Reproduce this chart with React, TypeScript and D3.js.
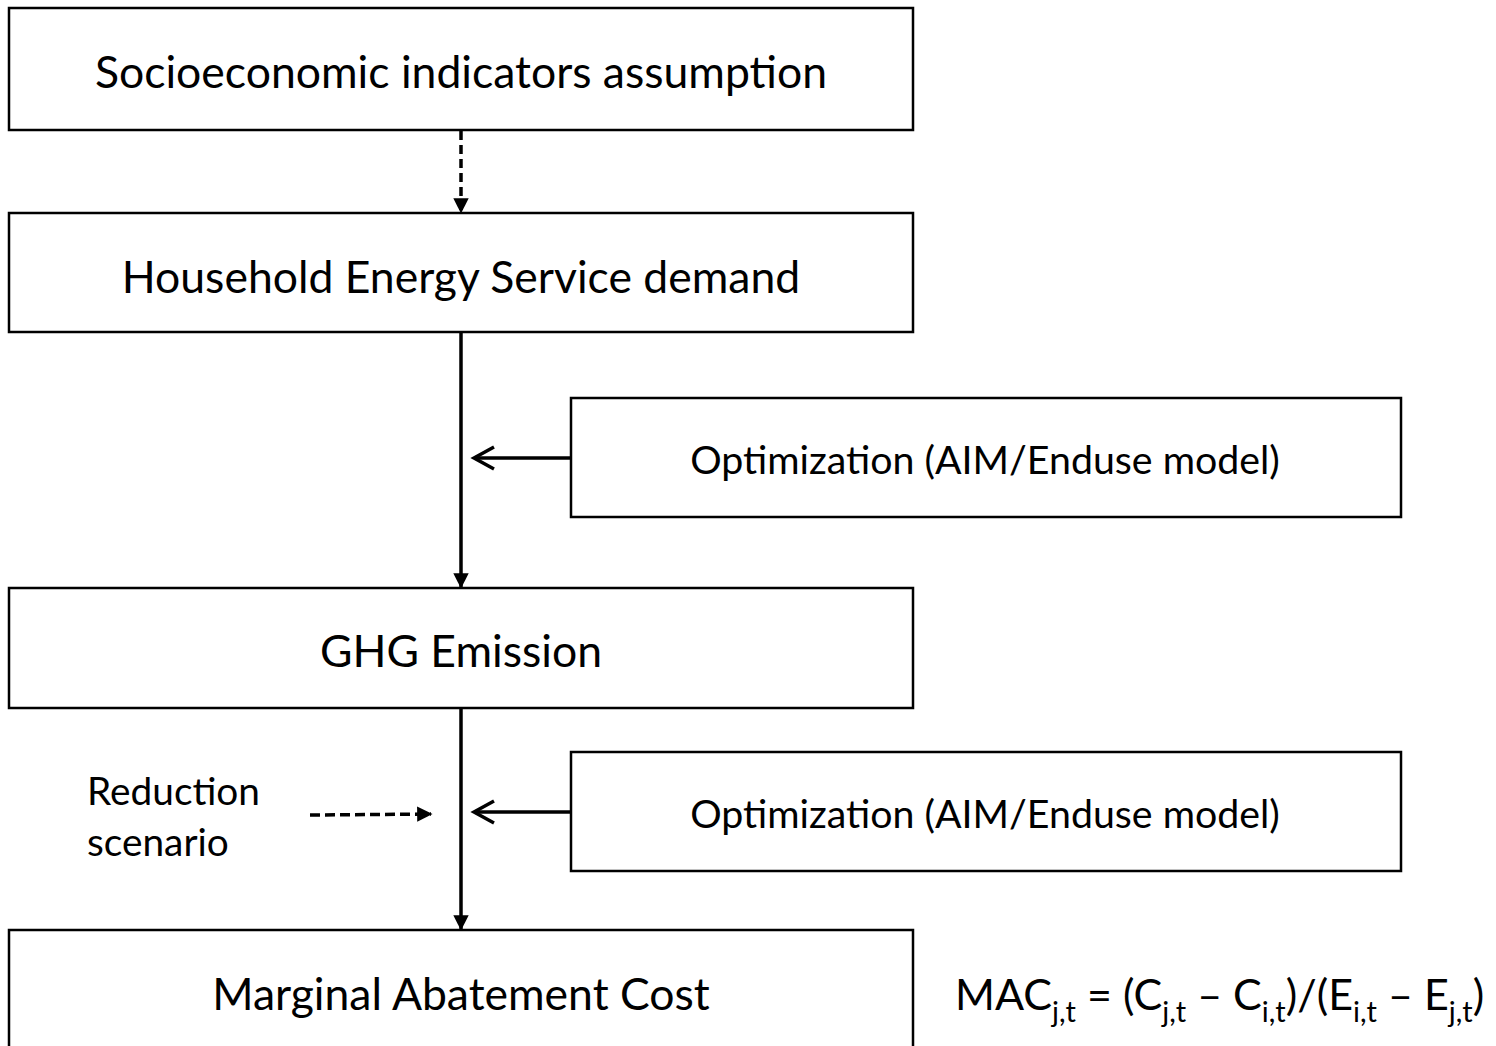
import React, { useEffect, useRef, ReactElement } from 'react'
import * as d3 from 'd3'

// flow steps on the main column, top to bottom
const mainSteps = [
  'Socioeconomic indicators assumption',
  'Household Energy Service demand',
  'GHG Emission',
  'Marginal Abatement Cost'
]
// side inputs that feed the links between steps
const sideSteps = ['Optimization (AIM/Enduse model)', 'Optimization (AIM/Enduse model)']
const linkStyles = ['dashed', 'solid', 'solid']
const scenarioLines = ['Reduction', 'scenario']
// formula pieces: [text, isSubscript]
const formulaParts: [string, boolean][] = [
  ['MAC', false], ['j,t', true], [' = (C', false], ['j,t', true], [' \u2013 C', false], ['i,t', true],
  [')/(E', false], ['i,t', true], [' \u2013 E', false], ['j,t', true], [')', false]
]

const FONT = 'Lato, "Open Sans", sans-serif'

const App = (): ReactElement => {
  const ref = useRef<SVGSVGElement>(null)

  useEffect(() => {
    const svg = d3.select(ref.current)
    svg.selectAll('*').remove()

    const W = 1496
    const H = 1046
    // main column box positions
    const boxX = 9
    const boxW = 904
    const boxTop = [8, 213, 588, 930]
    const boxH = [122, 119, 120, 130]
    const baselines = [88, 293, 667, 1010]
    const cx = boxX + boxW / 2

    const sideX = 571
    const sideW = 830
    const sideTop = [398, 752]
    const sideH = 119

    const defs = svg.append('defs')
    defs.append('marker')
      .attr('id', 'tri')
      .attr('viewBox', '0 0 10 10')
      .attr('refX', 9)
      .attr('refY', 5)
      .attr('markerWidth', 4.4)
      .attr('markerHeight', 4.4)
      .attr('markerUnits', 'strokeWidth')
      .attr('orient', 'auto')
      .append('path')
      .attr('d', 'M0,0 L10,5 L0,10 Z')
      .attr('fill', '#000')

    svg.append('rect').attr('width', W).attr('height', H).attr('fill', '#fff')

    const g = svg.append('g')

    // main boxes
    g.selectAll('rect.main')
      .data(mainSteps)
      .join('rect')
      .attr('class', 'main')
      .attr('x', boxX)
      .attr('y', (d, i) => boxTop[i])
      .attr('width', boxW)
      .attr('height', (d, i) => boxH[i])
      .attr('fill', 'none')
      .attr('stroke', '#000')
      .attr('stroke-width', 2.5)

    g.selectAll('text.main')
      .data(mainSteps)
      .join('text')
      .attr('class', 'main')
      .attr('x', cx)
      .attr('y', (d, i) => baselines[i])
      .attr('text-anchor', 'middle')
      .style('font-family', FONT)
      .style('font-size', '44.5px')
      .text(d => d)

    // vertical links between main boxes
    linkStyles.forEach((style, i) => {
      const y0 = boxTop[i] + boxH[i] + 1
      const y1 = boxTop[i + 1] - 1
      g.append('line')
        .attr('x1', cx).attr('x2', cx)
        .attr('y1', y0).attr('y2', y1)
        .attr('stroke', '#000')
        .attr('stroke-width', 3.5)
        .attr('stroke-dasharray', style === 'dashed' ? '9,5' : null)
        .attr('marker-end', 'url(#tri)')
    })

    // side boxes with open arrows into the link
    sideSteps.forEach((label, i) => {
      const top = sideTop[i]
      g.append('rect')
        .attr('x', sideX).attr('y', top)
        .attr('width', sideW).attr('height', sideH)
        .attr('fill', 'none').attr('stroke', '#000').attr('stroke-width', 2.5)
      g.append('text')
        .attr('x', sideX + sideW / 2 - 1)
        .attr('y', top + 76)
        .attr('text-anchor', 'middle')
        .style('font-family', FONT)
        .style('font-size', '39.3px')
        .text(label)
      const ay = top + 60
      const tipX = cx + 13
      g.append('line')
        .attr('x1', sideX).attr('x2', tipX + 1)
        .attr('y1', ay).attr('y2', ay)
        .attr('stroke', '#000').attr('stroke-width', 3.5)
      g.append('path')
        .attr('d', `M${tipX + 20},${ay - 11} L${tipX},${ay} L${tipX + 20},${ay + 11}`)
        .attr('fill', 'none').attr('stroke', '#000').attr('stroke-width', 3.5)
    })

    // reduction scenario label with dashed arrow
    g.selectAll('text.scen')
      .data(scenarioLines)
      .join('text')
      .attr('class', 'scen')
      .attr('x', 87)
      .attr('y', (d, i) => 805 + i * 51)
      .style('font-family', FONT)
      .style('font-size', '38.8px')
      .text(d => d)
    g.append('line')
      .attr('x1', 310).attr('x2', 431)
      .attr('y1', 815).attr('y2', 814)
      .attr('stroke', '#000').attr('stroke-width', 3.5)
      .attr('stroke-dasharray', '10,5')
      .attr('marker-end', 'url(#tri)')

    // MAC formula
    const ft = g.append('text')
      .attr('x', 955)
      .attr('y', 1010)
      .style('font-family', FONT)
      .style('font-size', '43px')
    let down = false
    formulaParts.forEach(([t, sub]) => {
      const ts = ft.append('tspan').text(t)
      if (sub && !down) { ts.attr('dy', 12).style('font-size', '29px'); down = true }
      else if (sub) { ts.style('font-size', '29px') }
      else if (down) { ts.attr('dy', -12); down = false }
    })
  }, [])

  return (
    <svg ref={ref} width={1496} height={1046}
      style={{ position: 'absolute', left: 0, top: 0, display: 'block' }} />
  )
}

export default App
